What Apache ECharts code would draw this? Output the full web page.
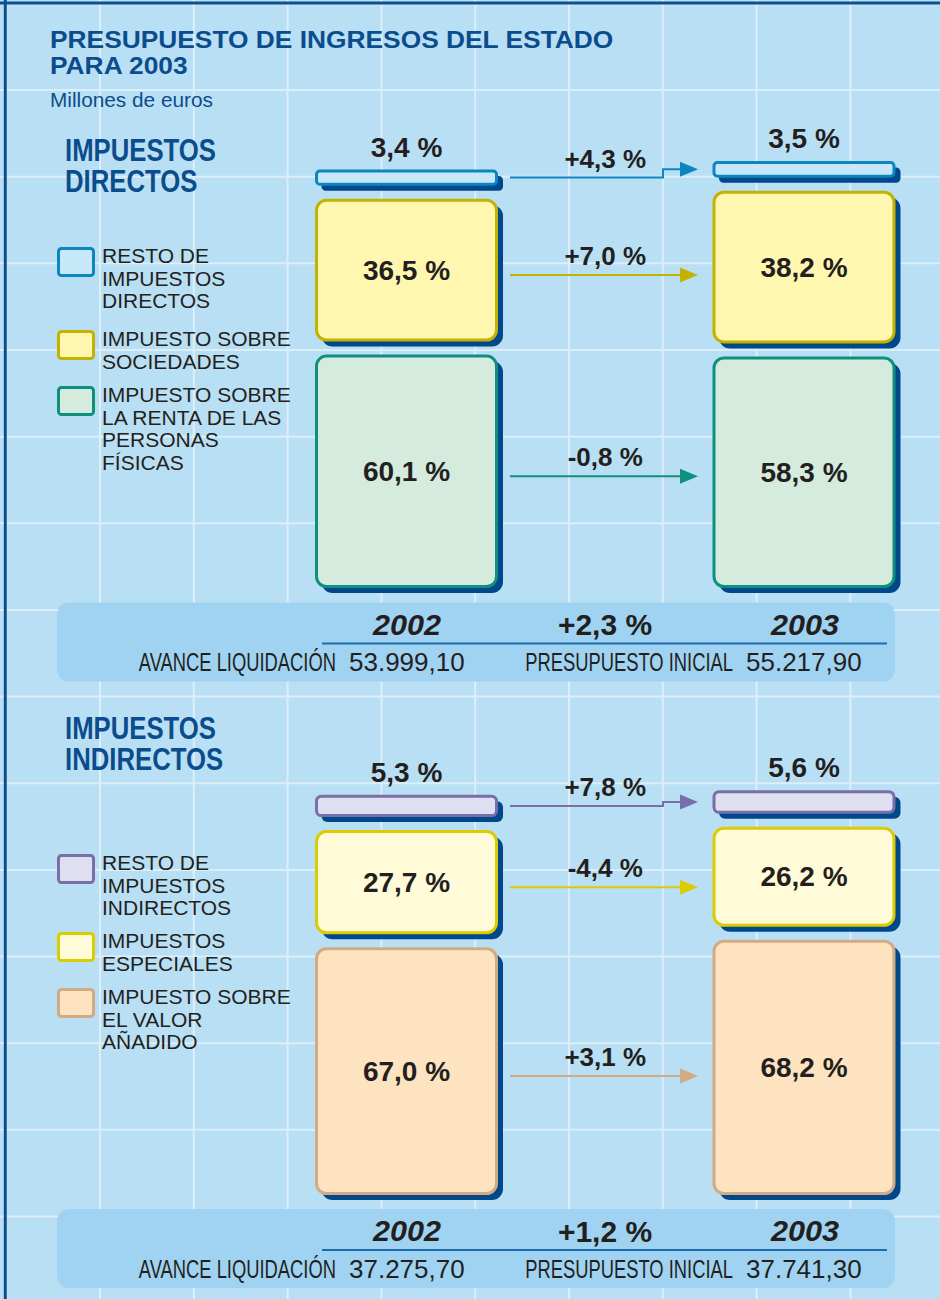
<!DOCTYPE html>
<html><head><meta charset="utf-8">
<script src="https://cdn.jsdelivr.net/npm/echarts@6/dist/echarts.min.js"></script>
<style>html,body{margin:0;padding:0;background:#b9dff4}#c{width:940px;height:1299px}</style>
</head><body><div id="c"></div>
<script>
// ---------- DATA ----------
const categories = ['2002', '2003'];
const titleLines = ['PRESUPUESTO DE INGRESOS DEL ESTADO', 'PARA 2003'];
const subtitle = 'Millones de euros';
const directTitle = ['IMPUESTOS', 'DIRECTOS'];
const indirectTitle = ['IMPUESTOS', 'INDIRECTOS'];
const directNames = [
  ['RESTO DE', 'IMPUESTOS', 'DIRECTOS'],
  ['IMPUESTO SOBRE', 'SOCIEDADES'],
  ['IMPUESTO SOBRE', 'LA RENTA DE LAS', 'PERSONAS', 'FÍSICAS']
];
const direct2002 = [3.4, 36.5, 60.1];
const direct2003 = [3.5, 38.2, 58.3];
const directChange = [4.3, 7.0, -0.8];
const directTotals = [53999.10, 55217.90];
const directTotalChange = 2.3;
const indirectNames = [
  ['RESTO DE', 'IMPUESTOS', 'INDIRECTOS'],
  ['IMPUESTOS', 'ESPECIALES'],
  ['IMPUESTO SOBRE', 'EL VALOR', 'AÑADIDO']
];
const indirect2002 = [5.3, 27.7, 67.0];
const indirect2003 = [5.6, 26.2, 68.2];
const indirectChange = [7.8, -4.4, 3.1];
const indirectTotals = [37275.70, 37741.30];
const indirectTotalChange = 1.2;
const totalLabels = ['AVANCE LIQUIDACIÓN', 'PRESUPUESTO INICIAL'];

// ---------- STYLES ----------
const directStyles = [
  {fill: '#c6e8f8', stroke: '#0b86bf'},
  {fill: '#fff6b0', stroke: '#c4b200'},
  {fill: '#d5ebde', stroke: '#0f907e'}
];
const indirectStyles = [
  {fill: '#dedff0', stroke: '#786ea8'},
  {fill: '#fffad7', stroke: '#dccb00'},
  {fill: '#fde3c0', stroke: '#d1ab84'}
];
const FONT = '"Liberation Sans", Arial, Helvetica, sans-serif';
const DARK = '#231f20';
const BLUE = '#0b4d8c';
const SHADOW = '#00488b';
const GAP = 16, BOXW = 180;

function fmtNum(v, dec) {
  const s = Math.abs(v).toFixed(dec);
  let parts = s.split('.');
  let i = parts[0].replace(/\B(?=(\d{3})+(?!\d))/g, '.');
  return (v < 0 ? '-' : '') + i + (parts[1] ? ',' + parts[1] : '');
}
const pct = v => fmtNum(v, 1) + ' %';
const sgnPct = v => (v > 0 ? '+' : '') + pct(v);

function buildBoxes(p2002, p2003, totals) {
  const data = [];
  [p2002, p2003].forEach((p, c) => {
    let cum = 0;
    const n = p.length;
    for (let k = 0; k < n; k++) {
      const i = n - 1 - k;
      const amt = p[i] / 100 * totals[c];
      data.push([c, cum, cum + amt, p[i], k, i]);
      cum += amt;
    }
  });
  return data;
}
function buildArrows(boxes, changes) {
  return changes.map((ch, i) => {
    const L = boxes.find(d => d[0] === 0 && d[5] === i);
    const R = boxes.find(d => d[0] === 1 && d[5] === i);
    return [0, L[1], L[2], R[1], R[2], L[4], ch, i];
  });
}
function tstyle(text, x, y, font, fill, align) {
  return {text, x, y, font, fill, align: align || 'center', verticalAlign: 'middle',
    textAlign: align || 'center', textVerticalAlign: 'middle'};
}
function boxRenderer(styles) {
  return function (params, api) {
    const c = api.value(0), s = api.value(1), e = api.value(2), p = api.value(3), k = api.value(4), i = api.value(5);
    const pb = api.coord([c, s]), pt = api.coord([c, e]);
    const yb = pb[1] - k * GAP, yt = pt[1] - k * GAP;
    const h = yb - yt, x = pb[0] - BOXW / 2;
    const r = Math.min(10, h / 4);
    const st = styles[i];
    return {type: 'group', children: [
      {type: 'rect', shape: {x: x + 5, y: yt + 5, width: BOXW + 1.5, height: h + 1.5, r: r + 1}, style: {fill: SHADOW}},
      {type: 'rect', shape: {x: x, y: yt, width: BOXW, height: h, r: r}, style: {fill: st.fill, stroke: st.stroke, lineWidth: 3}},
      {type: 'text', style: tstyle(pct(p), pb[0], i === 0 ? yt - 24 : (yt + yb) / 2, 'bold 28px ' + FONT, DARK)}
    ]};
  };
}
function arrowRenderer(styles) {
  return function (params, api) {
    const s0 = api.value(1), e0 = api.value(2), s1 = api.value(3), e1 = api.value(4);
    const k = api.value(5), ch = api.value(6), i = api.value(7);
    const lb = api.coord([0, s0]), lt = api.coord([0, e0]), rb = api.coord([1, s1]), rt = api.coord([1, e1]);
    const yl = (lb[1] + lt[1]) / 2 - k * GAP, yr = (rb[1] + rt[1]) / 2 - k * GAP;
    const x0 = lb[0] + 103.5, x1 = rb[0] - 106;
    const col = styles[i].stroke;
    let pts, yS, yE;
    if (i === 0) { yS = yl; yE = yr; pts = [[x0, yS], [x1 - 35, yS], [x1 - 35, yE], [x1 - 15, yE]]; }
    else { yS = yE = yl + 5; pts = [[x0, yS], [x1 - 15, yE]]; }
    return {type: 'group', children: [
      {type: 'polyline', shape: {points: pts}, style: {stroke: col, lineWidth: 2, fill: null}},
      {type: 'polygon', shape: {points: [[x1, yE], [x1 - 18, yE - 7.5], [x1 - 18, yE + 7.5]]}, style: {fill: col}},
      {type: 'text', style: tstyle(sgnPct(ch), (lb[0] + rb[0]) / 2, yS - 19, 'bold 26px ' + FONT, DARK)}
    ]};
  };
}

const directBoxes = buildBoxes(direct2002, direct2003, directTotals);
const indirectBoxes = buildBoxes(indirect2002, indirect2003, indirectTotals);
const directArrows = buildArrows(directBoxes, directChange);
const indirectArrows = buildArrows(indirectBoxes, indirectChange);

// ---------- GRAPHIC DECORATION ----------
const G = [];
function gtxt(text, x, y, font, fill, align, sx, z) {
  G.push({type: 'text', x: x, y: y, scaleX: sx || 1, z: z || 5, style: tstyle(text, 0, 0, font, fill, align)});
}
for (let k = 0; k < 11; k++) {
  const x = 6.2 + 93.8 * k;
  G.push({type: 'line', z: 0, shape: {x1: x, y1: 0, x2: x, y2: 1299}, style: {stroke: '#dbeefa', lineWidth: 2}});
}
for (let k = 0; k < 16; k++) {
  const y = 3.4 + 86.65 * k;
  G.push({type: 'line', z: 0, shape: {x1: 0, y1: y, x2: 940, y2: y}, style: {stroke: '#dbeefa', lineWidth: 2}});
}
G.push({type: 'line', z: 1, shape: {x1: 5.3, y1: 0, x2: 5.3, y2: 1299}, style: {stroke: '#0c4f91', lineWidth: 3}});
G.push({type: 'line', z: 1, shape: {x1: 0, y1: 3, x2: 940, y2: 3}, style: {stroke: '#0c4f91', lineWidth: 3}});

gtxt(titleLines[0], 50, 40, 'bold 23px ' + FONT, BLUE, 'left', 1.145);
gtxt(titleLines[1], 50, 66, 'bold 23px ' + FONT, BLUE, 'left', 1.145);
gtxt(subtitle, 50, 100, '20px ' + FONT, BLUE, 'left', 1.04);

function section(titleArr, titleY, names, styles, legendTops, bandY, totals, totalChange) {
  gtxt(titleArr[0], 65, titleY, 'bold 31px ' + FONT, BLUE, 'left', 0.83);
  gtxt(titleArr[1], 65, titleY + 31, 'bold 31px ' + FONT, BLUE, 'left', 0.83);
  names.forEach((lines, i) => {
    const top = legendTops[i];
    G.push({type: 'rect', z: 3, shape: {x: 58.5, y: top + 1.5, width: 35, height: 27, r: 3},
      style: {fill: styles[i].fill, stroke: styles[i].stroke, lineWidth: 3}});
    lines.forEach((ln, j) => gtxt(ln, 102, top + 8.5 + 22.5 * j, '21px ' + FONT, DARK, 'left', 1));
  });
  G.push({type: 'rect', z: 2, shape: {x: 57, y: bandY, width: 838, height: 79, r: 12}, style: {fill: '#9fd3f1'}});
  G.push({type: 'line', z: 3, shape: {x1: 322, y1: bandY + 41, x2: 887, y2: bandY + 41}, style: {stroke: '#1e6cb0', lineWidth: 2}});
  gtxt(categories[0], 407, bandY + 22, 'italic bold 30px ' + FONT, DARK, 'center', 1.02);
  gtxt(sgnPct(totalChange), 605, bandY + 22, 'bold 30px ' + FONT, DARK, 'center', 1);
  gtxt(categories[1], 805, bandY + 22, 'italic bold 30px ' + FONT, DARK, 'center', 1.02);
  gtxt(totalLabels[0], 336, bandY + 60, '25px ' + FONT, DARK, 'right', 0.735);
  gtxt(fmtNum(totals[0], 2), 349, bandY + 60, '25px ' + FONT, DARK, 'left', 1.04);
  gtxt(totalLabels[1], 733, bandY + 60, '25px ' + FONT, DARK, 'right', 0.735);
  gtxt(fmtNum(totals[1], 2), 746, bandY + 60, '25px ' + FONT, DARK, 'left', 1.04);
}
section(directTitle, 150, directNames, directStyles, [247, 330, 386], 602.5, directTotals, directTotalChange);
section(indirectTitle, 728, indirectNames, indirectStyles, [854, 932, 988], 1209, indirectTotals, indirectTotalChange);

// ---------- CHART ----------
const chart = echarts.init(document.getElementById('c'), null, {renderer: 'svg', width: 940, height: 1299});
chart.setOption({
  backgroundColor: '#b9dff4',
  animation: false,
  grid: [
    {left: 406.5, right: 136, top: 160.5, height: 426},
    {left: 406.5, right: 136, top: 801.5, height: 392}
  ],
  xAxis: [
    {type: 'category', data: categories, boundaryGap: false, gridIndex: 0, show: false},
    {type: 'category', data: categories, boundaryGap: false, gridIndex: 1, show: false}
  ],
  yAxis: [
    {type: 'value', min: 0, max: 60000, gridIndex: 0, show: false},
    {type: 'value', min: 0, max: 40000, gridIndex: 1, show: false}
  ],
  series: [
    {type: 'custom', name: 'Impuestos directos', xAxisIndex: 0, yAxisIndex: 0, clip: false, data: directBoxes, renderItem: boxRenderer(directStyles)},
    {type: 'custom', name: 'Variación directos', xAxisIndex: 0, yAxisIndex: 0, clip: false, data: directArrows, renderItem: arrowRenderer(directStyles)},
    {type: 'custom', name: 'Impuestos indirectos', xAxisIndex: 1, yAxisIndex: 1, clip: false, data: indirectBoxes, renderItem: boxRenderer(indirectStyles)},
    {type: 'custom', name: 'Variación indirectos', xAxisIndex: 1, yAxisIndex: 1, clip: false, data: indirectArrows, renderItem: arrowRenderer(indirectStyles)}
  ],
  graphic: {elements: G}
});
</script></body></html>
